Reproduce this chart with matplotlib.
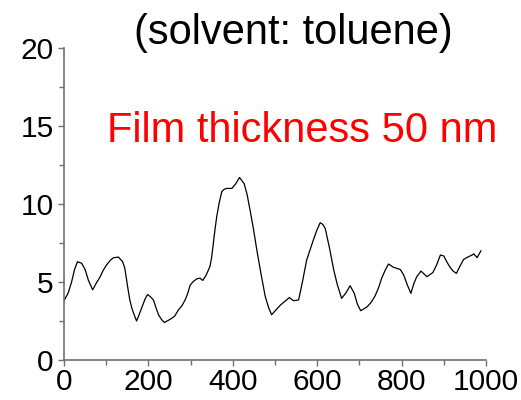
import matplotlib
matplotlib.use("Agg")
import matplotlib.pyplot as plt
from matplotlib.ticker import MultipleLocator

plt.rcParams['font.family'] = ['Liberation Sans', 'DejaVu Sans']

# profile
pos = [0, 10, 18, 25, 32, 42, 50, 58, 68, 76, 85, 93, 101, 110, 117, 129,
       139, 144, 148, 152, 156, 161, 165, 172, 178, 185, 192, 198, 205, 212,
       218, 224, 231, 238, 251, 262, 271, 280, 287, 293, 299, 307, 315, 322,
       329, 337, 346, 350, 354, 358, 362, 368, 374, 380, 386, 398, 407, 416,
       427, 434, 441, 449, 457, 467, 477, 485, 492, 502, 512, 523, 534, 544,
       556, 565, 575, 583, 591, 599, 607, 613, 619, 629, 639, 648, 658, 668,
       678, 688, 695, 703, 718, 728, 737, 745, 753, 761, 769, 781, 797, 805,
       813, 822, 829, 836, 846, 860, 874, 883, 892, 900, 908, 915, 922, 930,
       938, 947, 957, 967, 971, 979, 988]
height = [3.8, 4.3, 5.0, 5.8, 6.3, 6.2, 5.8, 5.1, 4.5, 4.9, 5.3, 5.75, 6.1,
          6.4, 6.55, 6.6, 6.3, 5.9, 5.2, 4.5, 3.85, 3.3, 3.0, 2.5, 2.9, 3.4,
          3.9, 4.2, 4.05, 3.85, 3.35, 2.9, 2.6, 2.4, 2.6, 2.8, 3.2, 3.5, 3.85,
          4.25, 4.8, 5.05, 5.2, 5.25, 5.1, 5.45, 6.0, 6.6, 7.5, 8.4, 9.2,
          10.1, 10.8, 10.95, 11.0, 11.0, 11.3, 11.7, 11.3, 10.6, 9.6, 8.4,
          7.05, 5.5, 4.06, 3.35, 2.9, 3.2, 3.5, 3.75, 4.0, 3.8, 3.85, 5.0,
          6.4, 7.05, 7.7, 8.3, 8.8, 8.7, 8.44, 7.2, 5.8, 4.8, 3.95, 4.3,
          4.76, 4.27, 3.6, 3.16, 3.4, 3.7, 4.1, 4.6, 5.25, 5.75, 6.15, 5.94,
          5.8, 5.45, 4.85, 4.27, 4.9, 5.34, 5.7, 5.34, 5.6, 6.1, 6.73, 6.67,
          6.25, 5.94, 5.7, 5.55, 6.0, 6.45, 6.6, 6.73, 6.8, 6.56, 7.0]

fig = plt.figure(figsize=(5.21, 4.0), dpi=100)
ax = fig.add_axes([0.1228, 0.1, 0.81, 0.78])
ax.plot(pos, height, color='black', lw=0.9)

ax.set_xlim(0, 1000)
ax.set_ylim(0, 20)
ax.xaxis.set_major_locator(MultipleLocator(200))
ax.xaxis.set_minor_locator(MultipleLocator(100))
ax.yaxis.set_major_locator(MultipleLocator(5))
ax.yaxis.set_minor_locator(MultipleLocator(2.5))

for s in ['top', 'right']:
    ax.spines[s].set_visible(False)
for s in ['left', 'bottom']:
    ax.spines[s].set_color('#707070')
    ax.spines[s].set_linewidth(1.2)
ax.tick_params(which='major', direction='out', length=4.5, width=1.0,
               color='#707070', labelsize=21.5, pad=3)
ax.tick_params(axis='x', which='major', pad=1.5)
ax.tick_params(which='minor', direction='out', length=3.5, width=1.0,
               color='#707070')

fig.text(0.564, 0.89, '(solvent: toluene)', ha='center', va='baseline',
         fontsize=30)
fig.text(0.205, 0.645, 'Film thickness 50 nm', ha='left', va='baseline',
         fontsize=30, color='red')

fig.savefig('out.png', dpi=100)
